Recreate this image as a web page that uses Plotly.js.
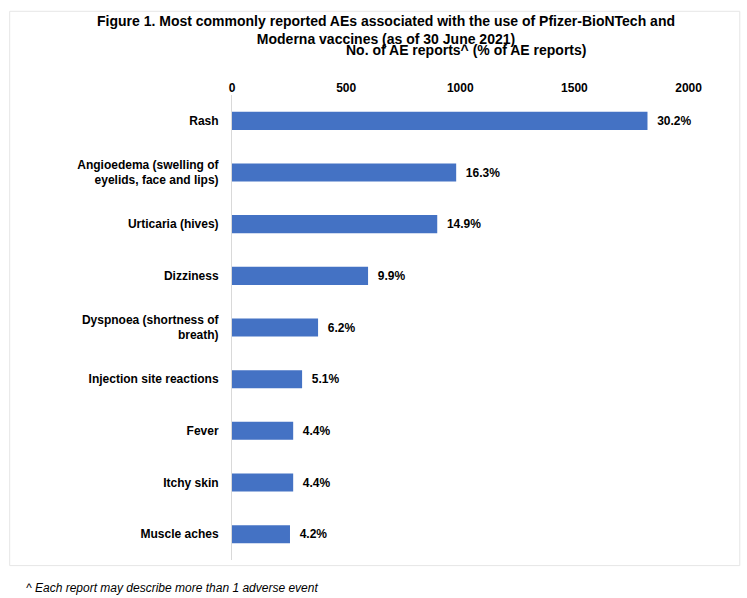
<!DOCTYPE html>
<html><head><meta charset="utf-8">
<script src="https://cdn.plot.ly/plotly-3.0.1.min.js"></script>
<style>body{margin:0;}</style>
</head><body>
<div id="chart" style="width:747px;height:598px;"></div>
<script>
var categories = ["Rash", "Angioedema (swelling of<br>eyelids, face and lips)", "Urticaria (hives)", "Dizziness",
  "Dyspnoea (shortness of<br>breath)", "Injection site reactions", "Fever", "Itchy skin", "Muscle aches"];
var counts = [1820, 982, 899, 596, 377, 307, 268, 268, 254];
var percentLabels = ["30.2%", "16.3%", "14.9%", "9.9%", "6.2%", "5.1%", "4.4%", "4.4%", "4.2%"];
var tickValues = [0, 500, 1000, 1500, 2000];

var font = "Liberation Sans, Arial, sans-serif";
var data = [{
  type: "bar", orientation: "h",
  x: counts, y: categories,
  text: percentLabels.map(function (t) { return "  " + t; }), textposition: "outside", cliponaxis: false,
  textfont: {family: font, size: 12, color: "#000", weight: "bold"},
  marker: {color: "#4472C4"}, width: 0.35
}];
var layout = {
  width: 747, height: 598,
  margin: {l: 232, r: 47, t: 95, b: 38},
  paper_bgcolor: "#fff", plot_bgcolor: "#fff",
  showlegend: false,
  font: {family: font, size: 12, color: "#000"},
  xaxis: {side: "top", range: [0, 2050], tickvals: tickValues, showgrid: false, zeroline: false,
    showline: false, ticks: "", tickfont: {family: font, size: 12, weight: "bold"}},
  yaxis: {autorange: "reversed", showline: true, linecolor: "#d9d9d9", ticks: "",
    tickfont: {family: font, size: 12, weight: "bold"}, ticklabelstandoff: 10},
  annotations: [
    {text: "<b>Figure 1. Most commonly reported AEs associated with the use of Pfizer-BioNTech and<br>Moderna vaccines (as of 30 June 2021)</b>",
      xref: "paper", yref: "paper", x: 0.33, y: 1 + 84 / 465, xanchor: "center", yanchor: "top",
      showarrow: false, font: {family: font, size: 14}},
    {text: "<b>No. of AE reports^ (% of AE reports)</b>", xref: "paper", yref: "paper",
      x: 0.5, y: 1 + 45 / 465, xanchor: "center", yanchor: "middle", showarrow: false, font: {family: font, size: 14}},
    {text: "<i>^ Each report may describe more than 1 adverse event</i>", xref: "paper", yref: "paper",
      x: -0.445, y: -0.04, xanchor: "left", yanchor: "top", showarrow: false, font: {family: font, size: 12}}],
  shapes: [{type: "rect", xref: "paper", yref: "paper", x0: -0.475, x1: 1.085, y0: -0.012, y1: 1.18,
    line: {color: "#e6e6e6", width: 1}}]
};
Plotly.newPlot("chart", data, layout, {displayModeBar: false});
</script>
</body></html>
